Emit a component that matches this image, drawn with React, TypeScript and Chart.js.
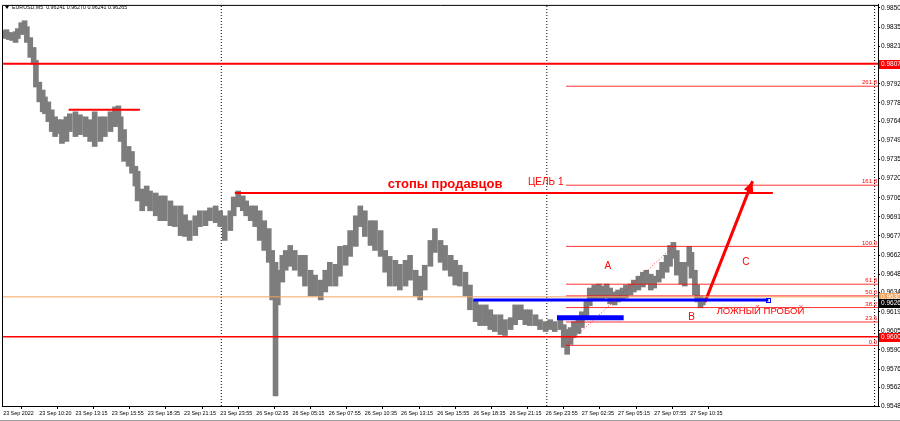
import React, { useEffect, useRef } from 'react';
import { Chart, registerables } from 'chart.js';
Chart.register(...registerables);

// ---- price data (5-minute bars, grouped) : bar index, high, low ----
const barIndex = [0,3,5,8,11,13,16,19,21,24,27,29,32,35,37,40,43,46,49,52,56,59,64,68,73,77,81,86,90,95,99,102,104,107,111,114,117,119,123,127,130,135,139,143,148,152,157,161,165,170,174,179,183,188,192,196,201,204,208,212,215,219,223,227,231,235,238,241,243,247,250,254,258,263,267,272,276,281,285,289,294,298,303,307,312,316,320,325,329,334,338,342,347,351,356,360,365,369,373,378,382,387,391,396,400,404,409,413,418,422,427,431,435,440,444,449,453,458,462,466,471,475,480,484,488,493,496,499,502,505,509,512,516,519,523,527,530,534,537,541,544,548,551,555,558,562,566,569,573,576,580,583,587,590,593,596,600,603,607,609,612,614,617,619];
const barHigh = [0.98328,0.98335,0.98313,0.98313,0.98320,0.98343,0.98388,0.98403,0.98358,0.98275,0.98200,0.98102,0.97937,0.97877,0.97825,0.97787,0.97727,0.97674,0.97652,0.97652,0.97674,0.97697,0.97712,0.97689,0.97674,0.97652,0.97712,0.97674,0.97674,0.97712,0.97749,0.97757,0.97674,0.97577,0.97449,0.97411,0.97299,0.97261,0.97126,0.97149,0.97111,0.97096,0.97074,0.97074,0.97036,0.96998,0.96998,0.96931,0.96886,0.96923,0.96961,0.96961,0.96983,0.96998,0.96961,0.96923,0.96961,0.97066,0.97111,0.97074,0.97036,0.96998,0.96998,0.96961,0.96886,0.96826,0.96660,0.96570,0.96510,0.96623,0.96660,0.96698,0.96660,0.96623,0.96623,0.96510,0.96473,0.96435,0.96510,0.96570,0.96555,0.96691,0.96698,0.96811,0.96923,0.96998,0.96961,0.96886,0.96886,0.96811,0.96660,0.96615,0.96585,0.96555,0.96585,0.96623,0.96510,0.96465,0.96548,0.96736,0.96826,0.96736,0.96698,0.96623,0.96585,0.96548,0.96495,0.96398,0.96285,0.96247,0.96247,0.96210,0.96172,0.96172,0.96135,0.96150,0.96247,0.96247,0.96210,0.96210,0.96172,0.96135,0.96120,0.96135,0.96120,0.96150,0.96097,0.96060,0.96075,0.96120,0.96150,0.96195,0.96285,0.96375,0.96398,0.96405,0.96390,0.96405,0.96375,0.96345,0.96360,0.96375,0.96398,0.96405,0.96435,0.96465,0.96495,0.96510,0.96480,0.96465,0.96510,0.96570,0.96623,0.96698,0.96721,0.96660,0.96570,0.96570,0.96691,0.96645,0.96510,0.96398,0.96315,0.96300];
const barLow = [0.98268,0.98275,0.98260,0.98253,0.98238,0.98268,0.98298,0.98313,0.98238,0.98125,0.98072,0.97900,0.97787,0.97712,0.97697,0.97637,0.97562,0.97524,0.97547,0.97472,0.97487,0.97562,0.97524,0.97539,0.97524,0.97487,0.97449,0.97487,0.97524,0.97562,0.97599,0.97622,0.97487,0.97336,0.97299,0.97246,0.97149,0.97036,0.96961,0.96998,0.96961,0.96923,0.96886,0.96886,0.96848,0.96841,0.96773,0.96766,0.96736,0.96773,0.96841,0.96848,0.96886,0.96871,0.96841,0.96736,0.96811,0.96923,0.96991,0.96961,0.96923,0.96886,0.96841,0.96736,0.96660,0.96570,0.96285,0.95557,0.96247,0.96420,0.96510,0.96540,0.96510,0.96465,0.96390,0.96315,0.96315,0.96285,0.96345,0.96390,0.96390,0.96465,0.96548,0.96615,0.96691,0.96841,0.96766,0.96698,0.96660,0.96615,0.96495,0.96390,0.96390,0.96360,0.96390,0.96435,0.96315,0.96285,0.96360,0.96540,0.96645,0.96570,0.96510,0.96465,0.96398,0.96390,0.96315,0.96210,0.96120,0.96090,0.96090,0.96060,0.96045,0.96022,0.96015,0.96060,0.96097,0.96135,0.96097,0.96090,0.96090,0.96060,0.96045,0.96060,0.96045,0.96060,0.95925,0.95872,0.95947,0.96000,0.96030,0.96075,0.96150,0.96240,0.96285,0.96285,0.96285,0.96300,0.96255,0.96247,0.96270,0.96285,0.96300,0.96323,0.96345,0.96360,0.96383,0.96405,0.96360,0.96375,0.96420,0.96450,0.96495,0.96540,0.96600,0.96473,0.96405,0.96390,0.96540,0.96450,0.96323,0.96270,0.96225,0.96247];

// ---- axes ----
const timeTickIndex = [0,32,64,96,128,160,192,224,256,288,320,352,384,416,448,480,512,544,576,608];
const timeTickLabels = ['23 Sep 2022','23 Sep 10:20','23 Sep 13:15','23 Sep 15:55','23 Sep 18:35','23 Sep 21:15','23 Sep 23:55','26 Sep 02:35','26 Sep 05:15','26 Sep 07:55','26 Sep 10:35','26 Sep 13:15','26 Sep 15:55','26 Sep 18:35','26 Sep 21:15','26 Sep 23:55','27 Sep 02:35','27 Sep 05:15','27 Sep 07:55','27 Sep 10:35'];
const priceTicks = [0.98500,0.98355,0.98210,0.98070,0.97925,0.97780,0.97640,0.97495,0.97350,0.97205,0.97060,0.96915,0.96770,0.96625,0.96480,0.96340,0.96195,0.96050,0.95905,0.95760,0.95620,0.95480];
const priceTickLabels = ['0.98500','0.98355','0.98210','0.98070','0.97925','0.97780','0.97640','0.97495','0.97350','0.97205','0.97060','0.96915','0.96770','0.96625','0.96480','0.96340','0.96195','0.96050','0.95905','0.95760','0.95620','0.95480'];
const priceMin = 0.95480;
const priceMax = 0.98523;
const barMax = 774;

// ---- drawn objects ----
const daySeparators = [193, 481, 771];
const levelTop = 0.98077;
const levelBottom = 0.96005;
const levelOrange = 0.96308;
const lastPrice = 0.96265;
const shortLevel = { from: 58, to: 121, price: 0.97727 };
const sellerStops = { from: 205, to: 681, price: 0.97096 };
const blueSupport = { from: 416, to: 677, price: 0.96285 };
const blueZone = { from: 490, to: 549, price: 0.96150 };
const fibRatios = [0, 23.6, 38.2, 50, 61.8, 100, 161.8, 261.8];
const fibLow = 0.95940;
const fibHigh = 0.96691;
const fibFrom = 498;
const fibTo = 593;
const arrowFrom = { x: 621, y: 0.96270 };
const arrowTo = { x: 663, y: 0.97186 };
const textLabels = [
  { text: 'стопы продавцов', x: 391, y: 0.97164, bold: true, size: 13 },
  { text: 'ЦЕЛЬ 1', x: 480, y: 0.97179, bold: false, size: 10 },
  { text: 'A', x: 535, y: 0.96540, bold: false, size: 10 },
  { text: 'B', x: 609, y: 0.96150, bold: false, size: 10 },
  { text: 'C', x: 657, y: 0.96570, bold: false, size: 10 },
  { text: 'ЛОЖНЫЙ ПРОБОЙ', x: 670, y: 0.96195, bold: false, size: 9.5 },
];
const axisBoxes = [
  { value: levelTop, label: '0.98077', bg: '#ff0000', fg: '#ffffff' },
  { value: levelBottom, label: '0.96005', bg: '#ff0000', fg: '#ffffff' },
  { value: levelOrange, label: '0.96308', bg: '#f4a460', fg: '#ffffff' },
  { value: lastPrice, label: '0.96265', bg: '#000000', fg: '#ffffff' },
];
const titleText = 'EURUSD,M5  0.96241 0.96270 0.96241 0.96265';

const FONT = "'Liberation Sans', Arial, sans-serif";
const RED = '#ff0000';

function hLine(from: number, to: number, price: number, color: string, width: number, dash: number[] = [], order = 0) {
  return {
    type: 'line',
    data: [{ x: from, y: price }, { x: to, y: price }],
    borderColor: color,
    borderWidth: width,
    borderDash: dash,
    pointRadius: 0,
    order,
  };
}

const overlayPlugin = {
  id: 'overlay',
  afterDatasetsDraw(chart: any) {
    const { ctx, chartArea, scales } = chart;
    const xs = scales.x;
    const ys = scales.y;
    ctx.save();
    ctx.fillStyle = RED;
    ctx.font = `6px ${FONT}`;
    ctx.textAlign = 'right';
    ctx.textBaseline = 'bottom';
    fibRatios.forEach((r) => {
      const v = fibLow + ((fibHigh - fibLow) * r) / 100;
      ctx.fillText(r.toFixed(1), chartArea.right - 1, ys.getPixelForValue(v) - 0.5);
    });
    const x1 = xs.getPixelForValue(arrowFrom.x);
    const y1 = ys.getPixelForValue(arrowFrom.y);
    const x2 = xs.getPixelForValue(arrowTo.x);
    const y2 = ys.getPixelForValue(arrowTo.y);
    const ang = Math.atan2(y2 - y1, x2 - x1);
    const len = 11;
    const hw = 5;
    ctx.fillStyle = RED;
    ctx.beginPath();
    ctx.moveTo(x2, y2);
    ctx.lineTo(x2 - len * Math.cos(ang) + hw * Math.sin(ang), y2 - len * Math.sin(ang) - hw * Math.cos(ang));
    ctx.lineTo(x2 - len * Math.cos(ang) - hw * Math.sin(ang), y2 - len * Math.sin(ang) + hw * Math.cos(ang));
    ctx.closePath();
    ctx.fill();
    ctx.strokeStyle = '#0000ff';
    ctx.lineWidth = 1;
    const bx = xs.getPixelForValue(blueSupport.to);
    const by = ys.getPixelForValue(blueSupport.price);
    ctx.strokeRect(Math.round(bx) - 1.5, Math.round(by) - 1.5, 4, 4);
    ctx.textAlign = 'center';
    ctx.textBaseline = 'middle';
    textLabels.forEach((t) => {
      ctx.font = `${t.bold ? 'bold ' : ''}${t.size}px ${FONT}`;
      ctx.fillStyle = RED;
      ctx.fillText(t.text, xs.getPixelForValue(t.x), ys.getPixelForValue(t.y));
    });
    ctx.restore();
  },
  afterDraw(chart: any) {
    const { ctx, chartArea, scales, width } = chart;
    const ys = scales.y;
    ctx.save();
    ctx.strokeStyle = '#000';
    ctx.lineWidth = 1;
    ctx.beginPath();
    ctx.moveTo(chartArea.left + 0.5, chartArea.bottom);
    ctx.lineTo(chartArea.left + 0.5, chartArea.top + 0.5);
    ctx.lineTo(chartArea.right, chartArea.top + 0.5);
    ctx.stroke();
    ctx.font = `6.5px ${FONT}`;
    ctx.textAlign = 'left';
    ctx.textBaseline = 'middle';
    axisBoxes.forEach((b) => {
      const py = Math.round(ys.getPixelForValue(b.value));
      ctx.fillStyle = b.bg;
      ctx.fillRect(chartArea.right + 1, py - 4, width - chartArea.right - 1, 9);
      ctx.fillStyle = b.fg;
      ctx.fillText(b.label, chartArea.right + 3, py + 0.5);
    });
    ctx.fillStyle = '#000';
    ctx.beginPath();
    ctx.moveTo(5, 6);
    ctx.lineTo(9, 6);
    ctx.lineTo(7, 9);
    ctx.closePath();
    ctx.fill();
    ctx.font = `5.3px ${FONT}`;
    ctx.textBaseline = 'middle';
    ctx.fillText(titleText, 12, 8);
    ctx.fillStyle = '#a0a0a0';
    ctx.fillRect(0, 420, width, 1);
    ctx.restore();
  },
};

export default function App() {
  const ref = useRef<HTMLCanvasElement | null>(null);
  useEffect(() => {
    if (!ref.current) return;
    const datasets: any[] = [];
    datasets.push({
      type: 'bar',
      data: barIndex.map((x, i) => ({ x, y: [barLow[i], barHigh[i]] })),
      backgroundColor: '#7d7d7d',
      borderWidth: 0,
      barThickness: 5,
      order: 10,
    });
    daySeparators.forEach((d) =>
      datasets.push({
        type: 'line',
        data: [{ x: d, y: priceMin }, { x: d, y: priceMax }],
        borderColor: '#000',
        borderWidth: 1,
        borderDash: [1, 2],
        pointRadius: 0,
        order: 20,
      })
    );
    datasets.push(hLine(0, barMax, levelTop, RED, 2));
    datasets.push(hLine(0, barMax, levelOrange, '#f4a460', 1));
    datasets.push(hLine(0, barMax, levelBottom, RED, 1.5));
    datasets.push(hLine(shortLevel.from, shortLevel.to, shortLevel.price, RED, 2));
    datasets.push(hLine(sellerStops.from, sellerStops.to, sellerStops.price, RED, 2));
    fibRatios.forEach((r) => {
      const v = fibLow + ((fibHigh - fibLow) * r) / 100;
      datasets.push(hLine(fibFrom, barMax, v, 'rgba(255,0,0,0.8)', 1));
    });
    datasets.push({
      type: 'line',
      data: [{ x: fibFrom, y: fibLow }, { x: fibTo, y: fibHigh }],
      borderColor: 'rgba(255,0,0,0.8)',
      borderWidth: 1,
      borderDash: [1, 2],
      pointRadius: 0,
      order: 0,
    });
    datasets.push(hLine(blueSupport.from, blueSupport.to, blueSupport.price, '#0000ff', 3));
    datasets.push(hLine(blueZone.from, blueZone.to, blueZone.price, '#0000ff', 5));
    datasets.push({
      type: 'line',
      data: [{ x: arrowFrom.x, y: arrowFrom.y }, { x: arrowTo.x, y: arrowTo.y }],
      borderColor: RED,
      borderWidth: 3,
      pointRadius: 0,
      order: 0,
    });

    Chart.defaults.font.family = FONT;
    const chart = new Chart(ref.current, {
      type: 'bar',
      data: { datasets },
      options: {
        animation: false,
        responsive: false,
        events: [],
        layout: { padding: { left: 2, top: 2, right: 0, bottom: 0 } },
        plugins: { legend: { display: false }, tooltip: { enabled: false } },
        scales: {
          x: {
            type: 'linear',
            min: -1,
            max: barMax,
            offset: false,
            afterBuildTicks: (s: any) => {
              s.ticks = timeTickIndex.map((v) => ({ value: v }));
            },
            afterFit: (s: any) => {
              s.height = 15;
            },
            ticks: {
              autoSkip: false,
              maxRotation: 0,
              align: 'start',
              padding: 1,
              color: '#000',
              font: { size: 5.4, family: FONT },
              callback: (_v: any, i: number) => timeTickLabels[i],
            },
            grid: { drawOnChartArea: false, drawTicks: true, tickLength: 3, color: '#000' },
            border: { display: true, color: '#000' },
          },
          y: {
            type: 'linear',
            position: 'right',
            min: priceMin,
            max: priceMax,
            afterBuildTicks: (s: any) => {
              s.ticks = priceTicks.map((v) => ({ value: v }));
            },
            afterFit: (s: any) => {
              s.width = 22;
            },
            ticks: {
              autoSkip: false,
              padding: 1,
              color: '#000',
              font: { size: 6.5, family: FONT },
              callback: (_v: any, i: number) => priceTickLabels[i],
            },
            grid: { drawOnChartArea: false, drawTicks: true, tickLength: 2, color: '#000' },
            border: { display: true, color: '#000' },
          },
        },
      } as any,
      plugins: [overlayPlugin],
    });
    return () => chart.destroy();
  }, []);
  return (
    <div style={{ position: 'fixed', left: 0, top: 0, width: 900, height: 421, background: '#fff' }}>
      <canvas ref={ref} width={900} height={421} style={{ width: 900, height: 421, display: 'block' }} />
    </div>
  );
}
